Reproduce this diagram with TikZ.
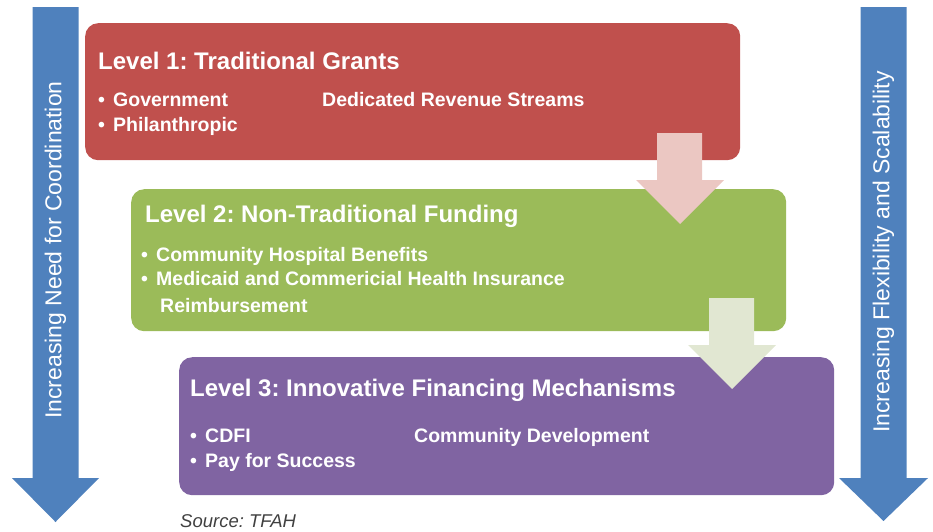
\documentclass[tikz,border=0pt]{standalone}
\usepackage{fontspec}
\setmainfont{Liberation Sans}
\frenchspacing
\definecolor{lone}{HTML}{C0504D}
\definecolor{ltwo}{HTML}{9BBB59}
\definecolor{lthree}{HTML}{8064A2}
\definecolor{sideblue}{HTML}{4F81BD}
\definecolor{pinkarrow}{HTML}{EBC7C2}
\definecolor{greenarrow}{HTML}{E1E7D2}
\definecolor{srcgray}{HTML}{404040}
\newcommand{\bul}[1]{\makebox[15pt][l]{•}#1}
\begin{document}
\frenchspacing
\begin{tikzpicture}[x=1pt,y=-1pt,
  levelbox/.style={rounded corners=13pt, inner sep=0pt, anchor=north west, minimum width=655pt},
  titletext/.style={text=white, inner sep=0pt, anchor=base west, font=\fontsize{24}{28}\selectfont\bfseries},
  itemtext/.style={text=white, inner sep=0pt, anchor=base west, font=\fontsize{19.5}{24}\selectfont\bfseries},
  sidetext/.style={text=white, inner sep=0pt, rotate=90, font=\fontsize{23}{28}\selectfont},
  srctext/.style={text=srcgray, inner sep=0pt, anchor=base west, font=\fontsize{18.5}{22}\selectfont\itshape}
]
\useasboundingbox (0,0) rectangle (933,531);

% side arrows
\fill[sideblue] (32.5,7) -- (78.5,7) -- (78.5,478) -- (99,478) -- (55.5,522) -- (12,478) -- (32.5,478) -- cycle;
\fill[sideblue] (860.5,7) -- (906.5,7) -- (906.5,478) -- (928,478) -- (883.5,521) -- (839,478) -- (860.5,478) -- cycle;
\node[sidetext] (lefttext) at (55.5,250) {Increasing Need for Coordination};
\node[sidetext] (righttext) at (883.5,252) {Increasing Flexibility and Scalability};

% level boxes
\node[levelbox, fill=lone, minimum height=137pt] (b1) at (85,23) {};
\node[levelbox, fill=ltwo, minimum height=142pt] (b2) at (131,189) {};
\node[levelbox, fill=lthree, minimum height=138pt] (b3) at (179,357) {};

% small arrows
\fill[pinkarrow] (657,133) -- (702,133) -- (702,180) -- (724,180) -- (680,224) -- (636,180) -- (657,180) -- cycle;
\fill[greenarrow] (709,298) -- (754,298) -- (754,345) -- (776,345) -- (732,389) -- (688,345) -- (709,345) -- cycle;

% level 1 text
\node[titletext] (t1) at (98,69) {Level 1: Traditional Grants};
\node[itemtext] (t1a) at (98,106) {\bul{Government}};
\node[itemtext] (t1b) at (98,131) {\bul{Philanthropic}};
\node[itemtext] (t1c) at (322,106) {Dedicated Revenue Streams};

% level 2 text
\node[titletext] (t2) at (145,222) {Level 2: Non-Traditional Funding};
\node[itemtext] (t2a) at (141,261) {\bul{Community Hospital Benefits}};
\node[itemtext] (t2b) at (141,285) {\bul{Medicaid and Commericial Health Insurance}};
\node[itemtext] (t2c) at (160,312) {Reimbursement};

% level 3 text
\node[titletext] (t3) at (190,396) {Level 3: Innovative Financing Mechanisms};
\node[itemtext] (t3a) at (190,442) {\bul{CDFI}};
\node[itemtext] (t3b) at (190,467) {\bul{Pay for Success}};
\node[itemtext] (t3c) at (414,442) {Community Development};

% source
\node[srctext] (src) at (180,527) {Source: TFAH};
\end{tikzpicture}
\end{document}
